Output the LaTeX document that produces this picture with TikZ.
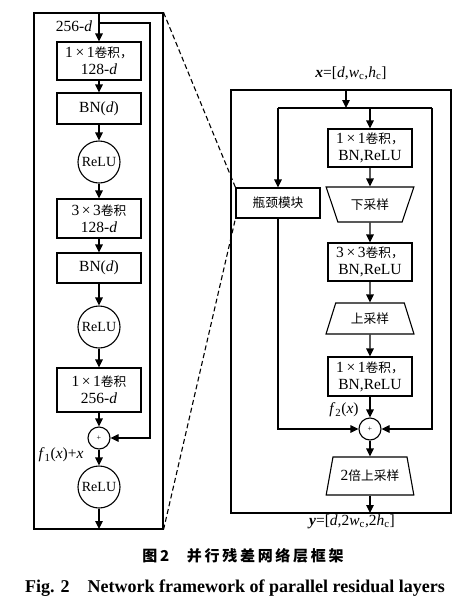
\documentclass[tikz,border=0pt]{standalone}
\usepackage{fontspec}
\setmainfont{Liberation Serif}
\newfontfamily\cjk{Noto Sans CJK SC}[Scale=0.82]
\newfontfamily\cjkcap{Noto Sans CJK SC}[LetterSpace=18]
\usetikzlibrary{shapes.geometric, arrows.meta, calc, positioning}
\tikzstyle{box} = [rectangle, minimum width=84, minimum height=38, text centered, draw=black, align=center, inner sep=1pt]
\tikzstyle{act} = [circle, minimum size=42, inner sep=0pt, draw=black, font=\fontsize{14}{16}\selectfont]
\tikzstyle{sum} = [circle, minimum size=22, inner sep=0pt, draw=black, font=\footnotesize]
\tikzstyle{samp-down} = [trapezium, trapezium stretches=true, trapezium left angle=66, trapezium right angle=66, shape border rotate=180, minimum width=88, minimum height=35, draw=black]
\tikzstyle{samp-up} = [trapezium, trapezium stretches=true, trapezium left angle=71, trapezium right angle=71, minimum width=88, minimum height=31, draw=black]
\tikzstyle{frame} = [rectangle, draw=black, inner sep=0pt]
\tikzstyle{arrow} = [->, >={Triangle[length=8pt,width=7.5pt]}]

\begin{document}
\begin{tikzpicture}[x=1pt, y=-1pt, line width=1.1pt, font=\fontsize{15.5}{17}\selectfont]
\useasboundingbox (0,0) rectangle (473,614);

% left panel: bottleneck block
\node (l-frame) [frame, minimum width=129, minimum height=516] at (98.5,271) {};
\node (l-conv1) [box] at (99,61) {1\,×\,1{\cjk 卷积，}\\128-\textit{d}};
\node (l-bn1) [box, minimum height=31] at (99,108.5) {BN(\textit{d})};
\node (l-relu1) [act] at (99,162) {ReLU};
\node (l-conv2) [box, minimum height=39] at (99,218.5) {3\,×\,3{\cjk 卷积}\\128-\textit{d}};
\node (l-bn2) [box, minimum height=30] at (99,268) {BN(\textit{d})};
\node (l-relu2) [act] at (99,327) {ReLU};
\node (l-conv3) [box, minimum height=44] at (99,390) {1\,×\,1{\cjk 卷积}\\256-\textit{d}};
\node (l-plus) [sum] at (99,438) {+};
\node (l-relu3) [act] at (99,487) {ReLU};
\coordinate (l-in) at (99,13);
\coordinate (l-split) at (99,23);
\coordinate (l-skip) at (150,23);
\coordinate (l-out) at (99,529);
\node (l-in-label) at (74,26) {256-\textit{d}};
\node (l-sum-label) at (61,455) {\textit{f}\textsubscript{1}(\textit{x})+\textit{x}};

\draw [arrow] (l-in) -- (l-conv1);
\draw [arrow] (l-conv1) -- (l-bn1);
\draw [arrow] (l-bn1) -- (l-relu1);
\draw [arrow] (l-relu1) -- (l-conv2);
\draw [arrow] (l-conv2) -- (l-bn2);
\draw [arrow] (l-bn2) -- (l-relu2);
\draw [arrow] (l-relu2) -- (l-conv3);
\draw [arrow] (l-conv3) -- (l-plus);
\draw [arrow] (l-plus) -- (l-relu3);
\draw [arrow] (l-relu3) -- (l-out);
\draw [arrow] (l-split) -- (l-skip) |- (l-plus);

% right panel: parallel residual layer
\node (r-frame) [frame, minimum width=220, minimum height=423] at (341,301.5) {};
\node (r-conv1) [box] at (370,148) {1\,×\,1{\cjk 卷积，}\\BN,ReLU};
\node (r-down) [samp-down] at (370,204.5) {\cjk 下采样};
\node (r-conv2) [box] at (370,262) {3\,×\,3{\cjk 卷积，}\\BN,ReLU};
\node (r-up) [samp-up] at (370,318.5) {\cjk 上采样};
\node (r-conv3) [box, minimum height=39] at (370,376.5) {1\,×\,1{\cjk 卷积，}\\BN,ReLU};
\node (r-plus) [sum] at (370,429) {+};
\node (r-up2) [samp-up, minimum height=38, trapezium left angle=72, trapezium right angle=72] at (370,476) {2{\cjk 倍上采样}};
\node (r-neck) [box, minimum height=30] at (278,203) {\cjk 瓶颈模块};
\coordinate (r-in) at (346,90);
\coordinate (r-split) at (346,108);
\coordinate (r-split-l) at (278,108);
\coordinate (r-split-r) at (432,108);
\coordinate (r-out) at (370,513);
\node (r-in-label) at (351,73) {\textbf{\textit{x}}=[\textit{d},\textit{w}\textsubscript{c},\textit{h}\textsubscript{c}]};
\node (r-out-label) at (352,522) {\textbf{\textit{y}}=[\textit{d},2\textit{w}\textsubscript{c},2\textit{h}\textsubscript{c}]};
\node (r-sum-label) at (344,410) {\textit{f}\textsubscript{2}(\textit{x})};

\draw [arrow] (r-in) -- (r-split);
\draw (r-split-l) -- (r-split-r);
\draw [arrow] (r-conv1 |- r-split) -- (r-conv1);
\draw [arrow] (r-conv1) -- (r-down);
\draw [arrow] (r-down) -- (r-conv2);
\draw [arrow] (r-conv2) -- (r-up);
\draw [arrow] (r-up) -- (r-conv3);
\draw [arrow] (r-conv3) -- (r-plus);
\draw [arrow] (r-plus) -- (r-up2);
\draw [arrow] (r-up2) -- (r-out);
\draw [arrow] (r-split-l) -- (r-neck);
\draw [arrow] (r-neck) |- (r-plus);
\draw [arrow] (r-split-r) |- (r-plus);

% zoom lines
\draw [dashed, dash pattern=on 5pt off 3pt] (l-frame.north east) -- (r-neck.north west);
\draw [dashed, dash pattern=on 5pt off 3pt] (l-frame.south east) -- (r-neck.south west);

% caption
\node (cap-zh) at (243,556) {\fontsize{15}{17}\selectfont\cjkcap\bfseries 图\textbf{2}\quad 并行残差网络层框架};
\node (cap-en) at (235,588) {\fontsize{18}{20}\selectfont\bfseries Fig. 2\quad Network framework of parallel residual layers};

\end{tikzpicture}
\end{document}
